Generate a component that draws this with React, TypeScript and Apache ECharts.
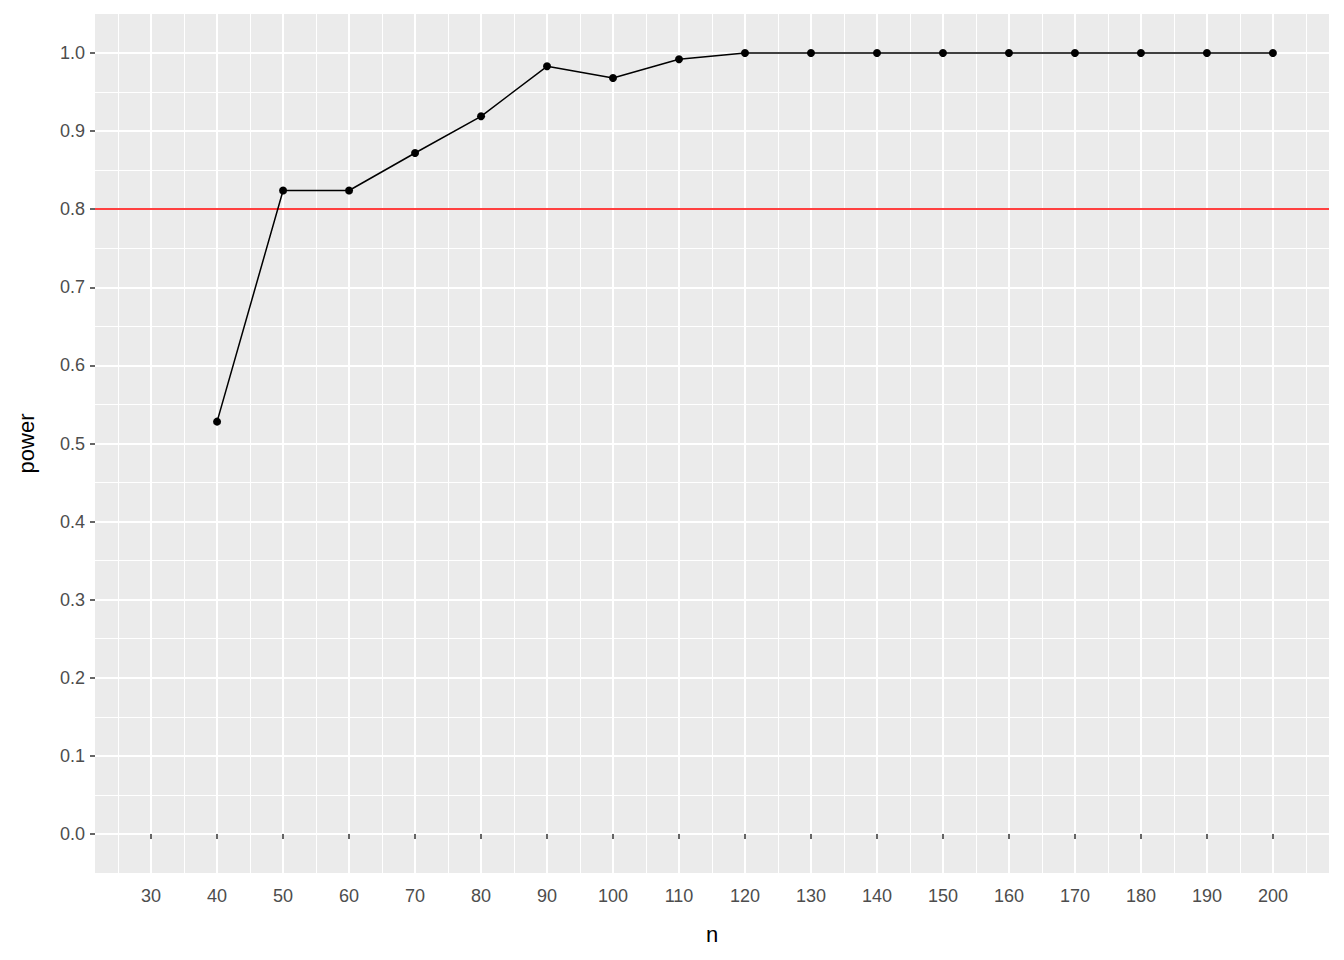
import React from 'react';
import * as echarts from 'echarts';

const nValues = [40, 50, 60, 70, 80, 90, 100, 110, 120, 130, 140, 150, 160, 170, 180, 190, 200];
const powerValues = [0.528, 0.824, 0.824, 0.872, 0.919, 0.983, 0.968, 0.992, 1, 1, 1, 1, 1, 1, 1, 1, 1];
const xTicks = [30, 40, 50, 60, 70, 80, 90, 100, 110, 120, 130, 140, 150, 160, 170, 180, 190, 200];
const xMinor = [25, 35, 45, 55, 65, 75, 85, 95, 105, 115, 125, 135, 145, 155, 165, 175, 185, 195, 205];
const yTicks = [0, 0.1, 0.2, 0.3, 0.4, 0.5, 0.6, 0.7, 0.8, 0.9, 1.0];
const yMinor = [0.05, 0.15, 0.25, 0.35, 0.45, 0.55, 0.65, 0.75, 0.85, 0.95];
const threshold = 0.8;

const tickColor = '#333333';
const labelColor = '#4D4D4D';

export default function App() {
  const ref = React.useRef<HTMLDivElement>(null);

  React.useEffect(() => {
    if (!ref.current) return;
    const chart = echarts.init(ref.current, null, { renderer: 'svg' });

    const grid = (w: number) => ({ color: '#FFFFFF', width: w, type: 'solid' as const });
    const gridLines = [
      ...xMinor.map((v) => ({ xAxis: v, lineStyle: grid(1) })),
      ...yMinor.map((v) => ({ yAxis: v, lineStyle: grid(1) })),
      ...xTicks.map((v) => ({ xAxis: v, lineStyle: grid(2) })),
      ...yTicks.map((v) => ({ yAxis: v, lineStyle: grid(2) })),
    ];

    chart.setOption({
      animation: false,
      grid: {
        left: 95, right: 15, top: 14, bottom: 87,
        show: true, backgroundColor: '#EBEBEB', borderWidth: 0,
      },
      xAxis: {
        type: 'value', min: 21.5, max: 208.5,
        name: 'n', nameLocation: 'middle', nameGap: 50,
        nameTextStyle: { color: '#000', fontSize: 22, fontFamily: 'Arial' },
        axisLine: { show: false },
        splitLine: { show: false },
        axisTick: { show: true, customValues: xTicks, length: 5, lineStyle: { color: tickColor, width: 1.5 } },
        axisLabel: { customValues: xTicks, color: labelColor, fontSize: 18, fontFamily: 'Arial', margin: 14 },
      },
      yAxis: {
        type: 'value', min: -0.05, max: 1.05,
        name: 'power', nameLocation: 'middle', nameGap: 58,
        nameTextStyle: { color: '#000', fontSize: 22, fontFamily: 'Arial' },
        axisLine: { show: false },
        splitLine: { show: false },
        axisTick: { show: true, customValues: yTicks, length: 5, lineStyle: { color: tickColor, width: 1.5 } },
        axisLabel: {
          customValues: yTicks, color: labelColor, fontSize: 18, fontFamily: 'Arial', margin: 10,
          formatter: (v: number) => v.toFixed(1),
        },
      },
      series: [
        {
          type: 'line', data: [], silent: true, z: 0,
          markLine: { silent: true, symbol: 'none', z: 0, label: { show: false }, data: gridLines },
        },
        {
          type: 'line', data: [], silent: true, z: 1,
          markLine: {
            silent: true, symbol: 'none', z: 1, label: { show: false },
            data: [{ yAxis: threshold, lineStyle: { color: '#FF0000', width: 1.5, type: 'solid' } }],
          },
        },
        {
          type: 'line',
          data: nValues.map((n, i) => [n, powerValues[i]]),
          symbol: 'circle', symbolSize: 8,
          lineStyle: { color: '#000', width: 1.5 },
          itemStyle: { color: '#000', borderWidth: 0 },
          z: 10,
        },
      ],
    });

    return () => chart.dispose();
  }, []);

  return <div ref={ref} style={{ width: 1344, height: 960, margin: -8 }} />;
}
